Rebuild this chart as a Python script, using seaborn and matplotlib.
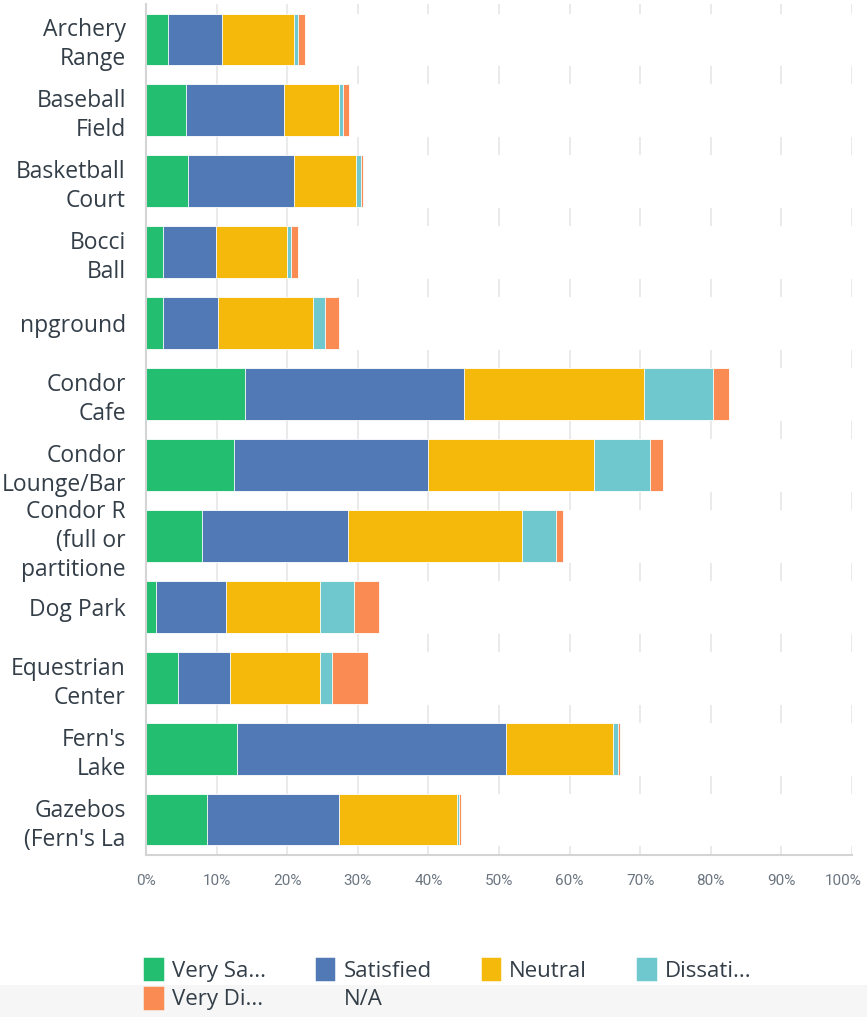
import matplotlib
matplotlib.use("Agg")
import matplotlib.pyplot as plt
from matplotlib.patches import Patch, Rectangle
import matplotlib.transforms as mtransforms
import seaborn as sns
import pandas as pd
import numpy as np

# survey answers, percent of respondents per amenity
amenities = ["Archery\nRange", "Baseball\nField", "Basketball\nCourt", "Bocci\nBall",
             "npground", "Condor\nCafe", "Condor\nLounge/Bar",
             "Condor R\n(full or\npartitione", "Dog Park", "Equestrian\nCenter",
             "Fern's\nLake", "Gazebos\n(Fern's La"]
very_satisfied = [3.1, 5.6, 5.9, 2.4, 2.4, 14.0, 12.5, 8.0, 1.4, 4.6, 12.9, 8.7]
satisfied = [7.7, 13.9, 15.1, 7.5, 7.8, 31.1, 27.4, 20.6, 9.9, 7.3, 38.1, 18.7]
neutral = [10.2, 7.9, 8.7, 10.1, 13.4, 25.4, 23.5, 24.6, 13.3, 12.7, 15.1, 16.7]
dissatisfied = [0.5, 0.5, 0.7, 0.6, 1.8, 9.8, 8.0, 4.9, 4.9, 1.7, 0.8, 0.2]
very_dissatisfied = [1.0, 0.8, 0.3, 0.9, 1.9, 2.3, 1.8, 1.0, 3.5, 5.2, 0.3, 0.3]

series_names = ["Very Sa...", "Satisfied", "Neutral", "Dissati...", "Very Di...", "N/A"]
colors = ["#23be70", "#5079b5", "#f5b90b", "#6fc8cd", "#f98b53", "#ffffff"]

df = pd.DataFrame({"amenity": amenities,
                   "Very Sa...": very_satisfied,
                   "Satisfied": satisfied,
                   "Neutral": neutral,
                   "Dissati...": dissatisfied,
                   "Very Di...": very_dissatisfied})
df["N/A"] = 100 - df[series_names[:5]].sum(axis=1)

# cumulative totals so each layer can be drawn on top of the next one
cum = df[series_names].cumsum(axis=1)
cum["amenity"] = df["amenity"]

sns.set_style("whitegrid")
plt.rcParams["font.family"] = ["Open Sans", "DejaVu Sans"]

fig = plt.figure(figsize=(8.67, 10.17), dpi=100)
ax = fig.add_axes([146 / 867, 1 - 855 / 1017, 706 / 867, 851 / 1017])

for name, col in reversed(list(zip(series_names, colors))):
    sns.barplot(ax=ax, data=cum, x=name, y="amenity", orient="h", color=col,
                width=0.73, edgecolor="white", linewidth=0.6, saturation=1)

ax.set_xlim(0, 100)
ax.set_ylim(11.5, -0.5)
ax.set_xticks(np.arange(0, 101, 10))
ax.set_xticklabels([f"{t}%" for t in range(0, 101, 10)], fontsize=11,
                   color="#6b7580", family=["Roboto", "DejaVu Sans"])
ax.set_xlabel("")
ax.set_ylabel("")
ax.tick_params(axis="x", length=0, pad=14)
ax.tick_params(axis="y", length=0, pad=14.5, labelsize=16.5, labelcolor="#333e48")
ax.grid(axis="x", color="#e6e6e6", linewidth=1.2)
ax.grid(axis="y", visible=False)
ax.set_axisbelow(True)
for s in ["top", "right"]:
    ax.spines[s].set_visible(False)
for s in ["left", "bottom"]:
    ax.spines[s].set_color("#d4d4d4")
    ax.spines[s].set_linewidth(1.5)
for lab in ax.get_yticklabels():
    lab.set_linespacing(1.28)

# keep "100%" inside the picture, as in the original
last = ax.get_xticklabels()[-1]
last.set_transform(last.get_transform() +
                   mtransforms.ScaledTranslation(-9 / 100, 0, fig.dpi_scale_trans))

# grey strip behind the last legend row
fig.patches.append(Rectangle((0, 0), 1, 32 / 1017, transform=fig.transFigure,
                             facecolor="#f6f6f6", edgecolor="none", zorder=0))

handles = [Patch(facecolor=c, edgecolor=c, linewidth=2.5, joinstyle="round")
           for c in colors]
handles[-1] = Patch(facecolor="none", edgecolor="none")
order = [0, 4, 1, 5, 2, 3]
fig.legend([handles[i] for i in order], [series_names[i] for i in order],
           loc="upper left", bbox_to_anchor=(145 / 867, 1 - 959 / 1017), ncol=4,
           frameon=False, fontsize=16, labelcolor="#333e48",
           handlelength=0.75, handleheight=1.0, handletextpad=0.45,
           columnspacing=2.3, labelspacing=0.28, borderpad=0, borderaxespad=0)

fig.savefig("out.png", dpi=100)
